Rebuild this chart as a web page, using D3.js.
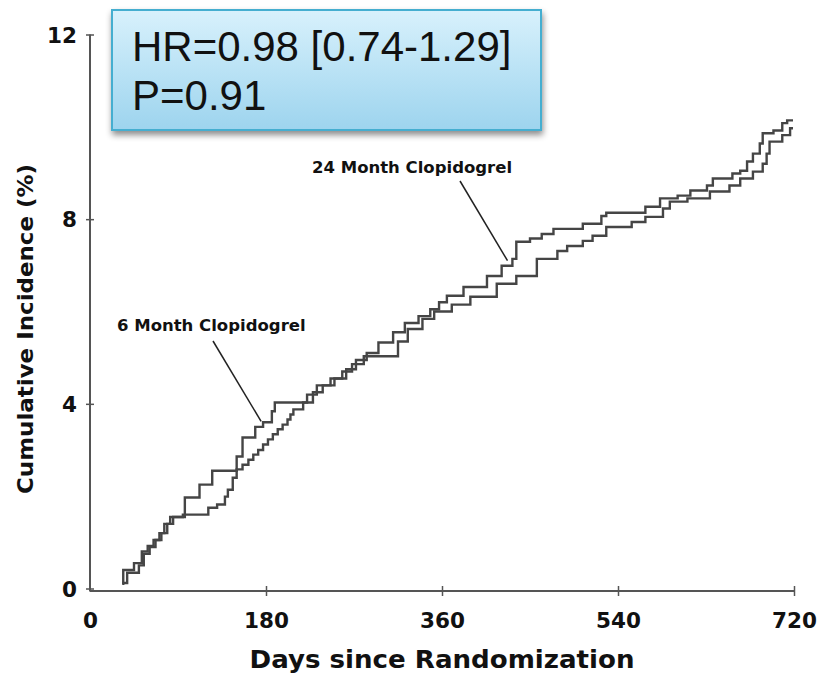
<!DOCTYPE html>
<html>
<head>
<meta charset="utf-8">
<script src="https://cdn.jsdelivr.net/npm/d3@7/dist/d3.min.js"></script>
<style>
  body { margin: 0; background: #fff; }
  svg { display: block; }
  .tick text { font-family: "DejaVu Sans", Verdana, sans-serif; font-weight: bold; fill: #111; }
</style>
</head>
<body>
<svg id="chart" width="821" height="675"></svg>
<script>
// axis ticks
const xTicks = [0, 180, 360, 540, 720];
const yTicks = [0, 4, 8, 12];

// cumulative incidence (%) step points: [day, value]
const month6Days = [33, 34, 45, 53, 59, 65, 71, 76, 82, 97, 112, 125, 150, 156, 169, 177, 186, 189, 222, 232, 246, 258, 268, 280, 315, 325, 340, 352, 370, 389, 416, 436, 457, 478, 488, 504, 514, 528, 554, 568, 586, 593, 611, 634, 654, 665, 678, 688, 692, 695, 708, 716, 719];
const month6Vals = [0.1, 0.4, 0.55, 0.8, 0.92, 1.05, 1.2, 1.4, 1.55, 1.97, 2.25, 2.55, 2.86, 3.27, 3.5, 3.6, 3.84, 4.03, 4.2, 4.4, 4.55, 4.7, 4.86, 5.03, 5.35, 5.62, 5.84, 6.0, 6.15, 6.32, 6.6, 6.77, 7.14, 7.31, 7.42, 7.53, 7.64, 7.83, 7.94, 8.05, 8.23, 8.38, 8.45, 8.6, 8.73, 8.88, 9.03, 9.2, 9.42, 9.68, 9.82, 9.97, 9.97];

const month24Days = [33, 38, 50, 55, 61, 67, 73, 79, 85, 95, 121, 130, 138, 141, 146, 150, 156, 162, 167, 172, 177, 182, 187, 192, 197, 202, 205, 208, 218, 228, 238, 250, 262, 272, 283, 295, 310, 322, 336, 348, 357, 365, 382, 406, 421, 432, 436, 450, 462, 474, 504, 523, 528, 568, 583, 601, 614, 631, 637, 657, 665, 672, 678, 685, 688, 699, 708, 713, 719];
const month24Vals = [0.12, 0.34, 0.5, 0.75, 0.9, 1.05, 1.2, 1.4, 1.55, 1.6, 1.75, 1.82, 1.99, 2.14, 2.4, 2.58, 2.68, 2.79, 2.9, 3.0, 3.12, 3.23, 3.34, 3.45, 3.55, 3.66, 3.77, 3.88, 4.03, 4.25, 4.4, 4.55, 4.75, 4.95, 5.1, 5.33, 5.55, 5.75, 5.9, 6.05, 6.2, 6.34, 6.53, 6.77, 6.99, 7.14, 7.51, 7.58, 7.68, 7.79, 7.9, 8.07, 8.14, 8.27, 8.45, 8.51, 8.62, 8.73, 8.88, 8.99, 9.05, 9.25, 9.42, 9.64, 9.86, 9.92, 10.08, 10.14, 10.14];

const statLines = ["HR=0.98 [0.74-1.29]", "P=0.91"];
const xTitle = "Days since Randomization";
const yTitle = "Cumulative Incidence (%)";

const svg = d3.select("#chart");
const x = d3.scaleLinear().domain([0, 720]).range([90, 794]);
const y = d3.scaleLinear().domain([0, 12]).range([588.5, 34.5]);

// y axis
const ya = svg.append("g").attr("transform", "translate(90,0)")
  .call(d3.axisLeft(y).tickValues(yTicks).tickSize(4).tickPadding(9).tickSizeOuter(0));
ya.select(".domain").attr("stroke", "#555").attr("stroke-width", 2).attr("d", `M0,${y(12)}V${y(0) + 3}`);
ya.selectAll(".tick line").attr("x1", 4).attr("stroke", "#555").attr("stroke-width", 1.5);
ya.selectAll(".tick text").attr("font-size", 21.5).attr("dy", "0.36em");

// x axis
const xa = svg.append("g").attr("transform", `translate(0,${y(0) + 2.5})`)
  .call(d3.axisBottom(x).tickValues(xTicks).tickSize(5).tickSizeOuter(0));
xa.select(".domain").attr("stroke", "#555").attr("stroke-width", 2).attr("d", `M${x(0)},0H${x(720)}`);
xa.selectAll(".tick line").attr("y1", -5).attr("stroke", "#555").attr("stroke-width", 1.5)
  .filter((d) => d === 0).remove();
xa.selectAll(".tick text").attr("font-size", 21.5).attr("y", 22).attr("dy", "0.71em");

// axis titles
svg.append("text").attr("x", 442).attr("y", 668)
  .attr("text-anchor", "middle").attr("font-family", "DejaVu Sans, Verdana, sans-serif")
  .attr("font-weight", "bold").attr("font-size", 24).attr("fill", "#111")
  .attr("textLength", 385).attr("lengthAdjust", "spacingAndGlyphs").text(xTitle);
svg.append("text").attr("transform", `translate(33,${(163 + 495) / 2}) rotate(-90)`)
  .attr("text-anchor", "middle").attr("font-family", "DejaVu Sans, Verdana, sans-serif")
  .attr("font-weight", "bold").attr("font-size", 22).attr("fill", "#111")
  .attr("textLength", 330).attr("lengthAdjust", "spacingAndGlyphs").text(yTitle);

// curves
const line = d3.line().x((d) => x(d[0])).y((d) => y(d[1])).curve(d3.curveStepAfter);
const series = [
  d3.zip(month6Days, month6Vals),
  d3.zip(month24Days, month24Vals)
];
svg.append("g").selectAll("path").data(series).join("path")
  .attr("d", line).attr("fill", "none").attr("stroke", "#454545").attr("stroke-width", 2.4);

// annotations
const ann = [
  { text: "6 Month Clopidogrel", tx: 117, ty: 331, lx1: 213, ly1: 341, day: 175, val: 3.62 },
  { text: "24 Month Clopidogrel", tx: 312, ty: 173, lx1: 460, ly1: 181, day: 427, val: 7.1 }
];
const ag = svg.append("g");
ann.forEach((a) => {
  ag.append("text").attr("x", a.tx).attr("y", a.ty).attr("font-family", "DejaVu Sans, Verdana, sans-serif")
    .attr("font-weight", "bold").attr("font-size", 16.5).attr("fill", "#111").text(a.text);
  ag.append("line").attr("x1", a.lx1).attr("y1", a.ly1).attr("x2", x(a.day)).attr("y2", y(a.val))
    .attr("stroke", "#222").attr("stroke-width", 1.5);
});

// stats box
const defs = svg.append("defs");
const grad = defs.append("linearGradient").attr("id", "boxg").attr("x1", 0).attr("y1", 0).attr("x2", 0).attr("y2", 1);
grad.append("stop").attr("offset", "0%").attr("stop-color", "#d8f1fc");
grad.append("stop").attr("offset", "100%").attr("stop-color", "#9dd4ee");
const sh = defs.append("filter").attr("id", "shadow").attr("x", "-10%").attr("y", "-10%").attr("width", "120%").attr("height", "130%");
sh.append("feDropShadow").attr("dx", 1).attr("dy", 4).attr("stdDeviation", 3).attr("flood-color", "#000").attr("flood-opacity", 0.45);

svg.append("rect").attr("x", 112).attr("y", 10).attr("width", 429).attr("height", 120)
  .attr("fill", "url(#boxg)").attr("stroke", "#45aed0").attr("stroke-width", 2)
  .attr("filter", "url(#shadow)");
svg.append("g").selectAll("text").data(statLines).join("text")
  .attr("x", 132).attr("y", (d, i) => 61 + i * 49)
  .attr("font-family", "Liberation Sans, Arial, sans-serif").attr("font-size", 42).attr("fill", "#111")
  .text((d) => d);
</script>
</body>
</html>
